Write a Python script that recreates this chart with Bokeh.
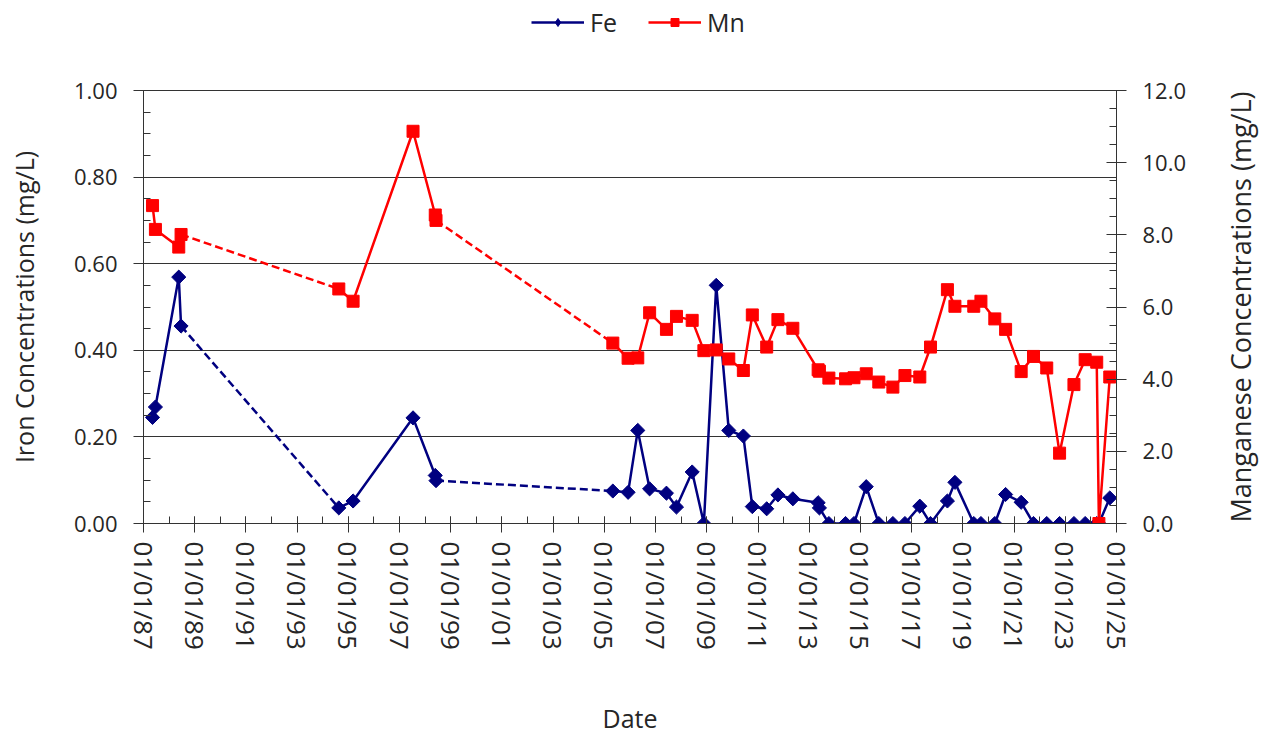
import math
import pandas as pd
from bokeh.plotting import figure
from bokeh.layouts import row, column
from bokeh.models import (LinearAxis, Range1d, FixedTicker, NumeralTickFormatter,
                          DatetimeTickFormatter, Legend, LegendItem)
from bokeh.embed import file_html
from bokeh.resources import INLINE

# ---------------- data ----------------
dates = ["1987-05-10", "1987-06-20", "1988-05-18", "1988-06-20", "1994-08-18",
         "1995-03-10", "1997-07-12", "1998-05-25", "1998-06-05", "2005-05-01",
         "2005-12-05", "2006-04-22", "2006-10-08", "2007-06-05", "2007-10-26",
         "2008-06-06", "2008-11-20", "2009-05-15", "2009-11-10", "2010-06-06",
         "2010-10-12", "2011-05-05", "2011-10-12", "2012-05-12", "2013-05-08",
         "2013-05-26", "2013-10-08", "2014-06-03", "2014-10-01", "2015-03-25",
         "2015-09-20", "2016-04-08", "2016-09-27", "2017-04-27", "2017-09-27",
         "2018-05-26", "2018-09-10", "2019-06-06", "2019-09-16", "2020-04-01",
         "2020-09-02", "2021-04-12", "2021-10-05", "2022-04-12", "2022-10-12",
         "2023-05-05", "2023-10-12", "2024-03-25", "2024-04-25", "2024-09-27"]
fe = [0.245, 0.269, 0.569, 0.456, 0.036,
      0.052, 0.244, 0.111, 0.099, 0.075,
      0.072, 0.215, 0.080, 0.070, 0.038,
      0.119, 0.000, 0.550, 0.215, 0.202,
      0.039, 0.034, 0.066, 0.057, 0.048,
      0.036, 0.000, 0.000, 0.000, 0.085,
      0.000, 0.000, 0.000, 0.040, 0.000,
      0.052, 0.095, 0.000, 0.000, 0.000,
      0.067, 0.049, 0.000, 0.000, 0.000,
      0.000, 0.000, 0.000, 0.000, 0.059]
mn = [8.81, 8.15, 7.66, 8.01, 6.50,
      6.16, 10.87, 8.55, 8.40, 5.00,
      4.58, 4.59, 5.84, 5.38, 5.74,
      5.63, 4.79, 4.81, 4.56, 4.24,
      5.78, 4.89, 5.65, 5.41, 4.26,
      4.22, 4.03, 4.01, 4.04, 4.15,
      3.92, 3.78, 4.10, 4.06, 4.89,
      6.48, 6.02, 6.02, 6.16, 5.67,
      5.38, 4.21, 4.63, 4.31, 1.95,
      3.85, 4.54, 4.47, 0.00, 4.06]
# sampling periods joined by solid lines; gaps bridged by dashed lines
solid_groups = [(0, 4), (4, 9), (9, 50)]
dashed_bridges = [(3, 4), (8, 9)]

tick_years = list(range(1987, 2026, 2))
minor_years = list(range(1987, 2026))
fe_ticks = [0.0, 0.2, 0.4, 0.6, 0.8, 1.0]
mn_ticks = [0.0, 2.0, 4.0, 6.0, 8.0, 10.0, 12.0]

# ---------------- styles ----------------
FONT = "Open Sans"
TXT = "#262626"
FE_C = "#000080"
MN_C = "#FF0000"
x = list(pd.to_datetime(dates))
W_MAIN, W_RIGHT, H_TOP, H_MAIN = 1196, 72, 50, 688


def ms(s):
    return pd.Timestamp(s).value // 10**6


# ---------------- main chart ----------------
p = figure(width=W_MAIN, height=H_MAIN, x_axis_type="datetime",
           x_range=Range1d(start=ms("1987-01-01"), end=ms("2025-01-01")),
           y_range=Range1d(start=0, end=1.0),
           output_backend="svg", toolbar_location=None,
           min_border_left=143, min_border_right=80,
           min_border_top=40, min_border_bottom=215)
p.extra_y_ranges = {"mn": Range1d(start=0, end=12.0)}
p.outline_line_color = "#333333"
p.outline_line_width = 1
p.background_fill_color = "white"
p.border_fill_color = "white"

xa = p.xaxis[0]
xa.ticker = FixedTicker(ticks=[ms(f"{y}-01-01") for y in tick_years],
                        minor_ticks=[ms(f"{y}-01-01") for y in minor_years])
fmt = "%m/%d/%y"
xa.formatter = DatetimeTickFormatter(microseconds=fmt, milliseconds=fmt, seconds=fmt,
                                     minsec=fmt, minutes=fmt, hourmin=fmt, hours=fmt,
                                     days=fmt, months=fmt, years=fmt)
xa.major_label_orientation = -math.pi / 2
xa.axis_label = "Date"

ya = p.yaxis[0]
ya.ticker = FixedTicker(ticks=fe_ticks, minor_ticks=[i * 0.05 for i in range(21)])
ya.formatter = NumeralTickFormatter(format="0.00")
ya.axis_label = "Iron Concentrations (mg/L)"

ra = LinearAxis(y_range_name="mn",
                ticker=FixedTicker(ticks=mn_ticks, minor_ticks=[i * 0.5 for i in range(25)]),
                formatter=NumeralTickFormatter(format="0.0"))
p.add_layout(ra, "right")

for ax in (xa, ya, ra):
    ax.axis_line_color = "#333333"
    ax.axis_line_width = 1
    ax.major_tick_line_color = "#333333"
    ax.minor_tick_line_color = "#333333"
    ax.major_label_text_font = FONT
    ax.major_label_text_font_size = "22px"
    ax.major_label_text_color = TXT
    ax.axis_label_text_font = FONT
    ax.axis_label_text_font_size = "25px"
    ax.axis_label_text_font_style = "normal"
    ax.axis_label_text_color = TXT

xa.major_label_text_font_size = "26px"
xa.major_label_standoff = 9
xa.axis_label_standoff = 48
ya.major_label_standoff = 16
ya.axis_label_standoff = 30
ra.major_label_standoff = 16

xa.major_tick_in = 7
xa.major_tick_out = 9
xa.minor_tick_in = 7
xa.minor_tick_out = 0
ya.major_tick_in = 0
ya.major_tick_out = 10
ya.minor_tick_in = 7
ya.minor_tick_out = 0
ra.major_tick_in = 10
ra.major_tick_out = 10
ra.minor_tick_in = 7
ra.minor_tick_out = 0

p.xgrid.visible = False
p.ygrid.ticker = FixedTicker(ticks=fe_ticks)
p.ygrid.grid_line_color = "#333333"
p.ygrid.grid_line_width = 1

# Fe
for a, b in solid_groups:
    p.line(x[a:b], fe[a:b], line_color=FE_C, line_width=2.5)
for a, b in dashed_bridges:
    p.line([x[a], x[b]], [fe[a], fe[b]], line_color=FE_C, line_width=2.5, line_dash="8 4")
p.scatter(x, fe, marker="square", angle=math.pi / 4, size=10, fill_color=FE_C, line_color=FE_C)

# Mn
for a, b in solid_groups:
    p.line(x[a:b], mn[a:b], line_color=MN_C, line_width=2.5, y_range_name="mn")
for a, b in dashed_bridges:
    p.line([x[a], x[b]], [mn[a], mn[b]], line_color=MN_C, line_width=2.5, line_dash="8 4",
           y_range_name="mn")
p.scatter(x, mn, marker="square", size=12, fill_color=MN_C, line_color=MN_C, y_range_name="mn")

# ---------------- legend strip above the chart ----------------
p0 = figure(width=W_MAIN + W_RIGHT, height=H_TOP, x_range=Range1d(0, 1), y_range=Range1d(0, 1),
            output_backend="svg", toolbar_location=None,
            x_axis_location=None, y_axis_location=None,
            min_border_left=143, min_border_right=W_MAIN + W_RIGHT - 1116,
            min_border_top=0, min_border_bottom=0)
p0.grid.visible = False
p0.outline_line_color = None
# legend glyph renderers (kept outside the visible range; only their legend swatches show)
fe_l = p0.line([5, 6], [5, 6], line_color=FE_C, line_width=2.5)
fe_m = p0.scatter([5], [5], marker="diamond", size=17, fill_color=FE_C, line_color=FE_C)
mn_l = p0.line([5, 6], [5, 6], line_color=MN_C, line_width=2.5)
mn_m = p0.scatter([5], [5], marker="square", size=12, fill_color=MN_C, line_color=MN_C)
legend = Legend(items=[LegendItem(label="Fe", renderers=[fe_l, fe_m]),
                       LegendItem(label="Mn", renderers=[mn_l, mn_m])],
                orientation="horizontal", location=(388, 11),
                label_text_font=FONT, label_text_font_size="25px", label_text_color=TXT,
                glyph_width=53, glyph_height=20, label_standoff=6, spacing=31,
                border_line_color=None, background_fill_alpha=0, padding=2, margin=0)
p0.add_layout(legend)

# ---------------- right-hand axis title (reads bottom to top) ----------------
p2 = figure(width=W_RIGHT, height=H_MAIN, x_range=Range1d(0, 1), y_range=Range1d(0, 1),
            output_backend="svg", toolbar_location=None,
            x_axis_location=None, y_axis_location="left",
            min_border_left=67, min_border_right=0,
            min_border_top=40, min_border_bottom=215)
p2.grid.visible = False
p2.outline_line_color = None
ay = p2.yaxis[0]
ay.ticker = FixedTicker(ticks=[])
ay.axis_line_color = None
ay.major_tick_line_color = None
ay.minor_tick_line_color = None
ay.axis_label = "Manganese Concentrations (mg/L)"
ay.axis_label_standoff = 5
ay.axis_label_text_font = FONT
ay.axis_label_text_font_size = "27px"
ay.axis_label_text_font_style = "normal"
ay.axis_label_text_color = TXT

layout = column(p0, row(p, p2, spacing=0), spacing=0)
open("out.html", "w").write(file_html(layout, INLINE))
